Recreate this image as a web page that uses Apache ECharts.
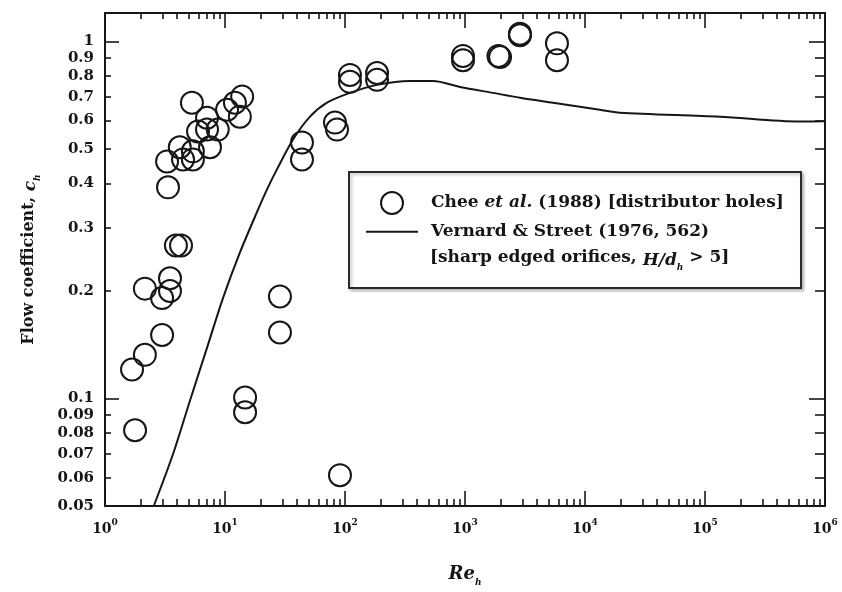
<!DOCTYPE html>
<html><head><meta charset="utf-8">
<script src="https://cdn.jsdelivr.net/npm/echarts@6/dist/echarts.min.js"></script>
<style>html,body{margin:0;padding:0;background:#fff}#c{width:842px;height:592px}</style>
</head><body><div id="c"></div>
<script>
// Chee et al. (1988) distributor holes: Re_h and c_h
const cheeRe = [1.68, 1.78, 2.15, 2.15, 2.99, 2.99, 3.48, 3.48, 3.9, 4.3, 3.35,
  3.29, 4.47, 5.4, 4.2, 5.4, 7.5, 5.96, 7.08, 8.7, 7.08, 5.3, 10.4, 12.1, 13.3, 13.9,
  14.7, 14.7, 28.7, 28.7, 43.8, 43.8, 82.5, 85.8, 90.8, 110, 110, 185, 185,
  962, 962, 1960, 1900, 2870, 2870, 5840, 5840];
const cheeCh = [0.1205, 0.0815, 0.1325, 0.203, 0.191, 0.1506, 0.217, 0.2, 0.268, 0.268, 0.39,
  0.461, 0.467, 0.467, 0.505, 0.492, 0.505, 0.559, 0.566, 0.566, 0.611, 0.673, 0.643, 0.673, 0.615, 0.70,
  0.1006, 0.0915, 0.193, 0.153, 0.521, 0.467, 0.592, 0.566, 0.061, 0.805, 0.77, 0.815, 0.78,
  0.885, 0.91, 0.903, 0.91, 1.04, 1.05, 0.987, 0.885];
// Vernard & Street (1976) curve
const vsRe = [2.55, 3.69, 5.11, 7.08, 9.62, 13.3, 18.5, 22.8, 27.1, 36.9, 51.1, 70.8, 110, 185,
  348, 541, 908, 1710, 2870, 5410, 13300, 19500, 133000, 617000, 1000000];
const vsCh = [0.05, 0.0699, 0.0987, 0.1386, 0.191, 0.256, 0.333, 0.39, 0.438, 0.531, 0.615, 0.673, 0.717, 0.755,
  0.774, 0.774, 0.745, 0.717, 0.695, 0.673, 0.643, 0.631, 0.615, 0.596, 0.597];
// Tick values / labels
const xMajorTicks = [1, 10, 100, 1000, 10000, 100000, 1000000];
const xMinorMultipliers = [2, 3, 4, 5, 6, 7, 8, 9];
const yMajorTicks = [0.1, 1];
const yTickLabels = [0.05, 0.06, 0.07, 0.08, 0.09, 0.1, 0.2, 0.3, 0.4, 0.5, 0.6, 0.7, 0.8, 0.9, 1];

const xMinorTicks = [];
xMajorTicks.slice(0, -1).forEach(d => xMinorMultipliers.forEach(m => xMinorTicks.push(+(d * m).toPrecision(3))));
const yMinorTicks = yTickLabels.filter(v => yMajorTicks.indexOf(v) < 0);

const FONT = 'DejaVu Serif';
const INK = '#161616';
const XMIN = 1, XMAX = 1e6, YMIN = 0.05, YMAX = 1.2;

function xAxis(pos, ticks, len, showLine, showLabel) {
  return {
    type: 'log', logBase: 10, min: XMIN, max: XMAX, position: pos,
    axisLine: { show: showLine, onZero: false, lineStyle: { color: INK, width: 2 } },
    axisTick: { show: true, inside: true, length: len, customValues: ticks, lineStyle: { color: INK, width: 1.6 } },
    axisLabel: showLabel ? {
      show: true, customValues: xMajorTicks, margin: 12, hideOverlap: false,
      showMinLabel: true, showMaxLabel: true,
      formatter: v => '{b|10}{s|' + Math.round(Math.log10(v)) + '}',
      rich: {
        b: { fontFamily: FONT, fontWeight: 'bold', fontSize: 14, color: INK, verticalAlign: 'bottom', lineHeight: 18 },
        s: { fontFamily: FONT, fontWeight: 'bold', fontSize: 9, color: INK, verticalAlign: 'top', lineHeight: 18, padding: [0, 0, 7, 0] }
      }
    } : { show: false },
    splitLine: { show: false }, minorTick: { show: false }
  };
}
function yAxis(pos, ticks, len, showLine, showLabel) {
  return {
    type: 'log', logBase: 10, min: YMIN, max: YMAX, position: pos,
    axisLine: { show: showLine, onZero: false, lineStyle: { color: INK, width: 2 } },
    axisTick: { show: true, inside: true, length: len, customValues: ticks, lineStyle: { color: INK, width: 1.6 } },
    axisLabel: showLabel ? {
      show: true, customValues: yTickLabels, margin: 11, hideOverlap: false,
      showMinLabel: true, showMaxLabel: true,
      formatter: v => String(+(+v).toPrecision(3)),
      fontFamily: FONT, fontWeight: 'bold', fontSize: 15, lineHeight: 12, color: INK
    } : { show: false },
    splitLine: { show: false }, minorTick: { show: false }
  };
}

const xAxes = [
  xAxis('bottom', xMajorTicks, 15, true, true),
  xAxis('bottom', xMinorTicks, 7, false, false),
  xAxis('top', xMajorTicks, 15, true, false),
  xAxis('top', xMinorTicks, 6, false, false)
];
xAxes[0].name = '{i|Re}{sub|h}';
xAxes[0].nameLocation = 'middle';
xAxes[0].nameGap = 55;
xAxes[0].nameTextStyle = {
  rich: {
    i: { fontFamily: FONT, fontStyle: 'italic', fontWeight: 'bold', fontSize: 18, color: INK, verticalAlign: 'bottom', lineHeight: 22 },
    sub: { fontFamily: FONT, fontStyle: 'italic', fontWeight: 'bold', fontSize: 9, color: INK, verticalAlign: 'bottom', lineHeight: 22, padding: [0, 0, -4, 0] }
  }
};
const yAxes = [
  yAxis('left', yMajorTicks, 14, true, true),
  yAxis('left', yMinorTicks, 6, false, false),
  yAxis('right', yMajorTicks, 16, true, false),
  yAxis('right', yMinorTicks, 10, false, false)
];
yAxes[0].name = 'Flow coefficient, {i|c}{sub|h}';
yAxes[0].nameLocation = 'middle';
yAxes[0].nameRotate = 90;
yAxes[0].nameGap = 66;
yAxes[0].nameTextStyle = {
  fontFamily: FONT, fontWeight: 'bold', fontSize: 16, color: INK,
  rich: {
    i: { fontFamily: FONT, fontStyle: 'italic', fontWeight: 'bold', fontSize: 17, color: INK, verticalAlign: 'bottom', lineHeight: 20 },
    sub: { fontFamily: FONT, fontStyle: 'italic', fontWeight: 'bold', fontSize: 9, color: INK, verticalAlign: 'bottom', lineHeight: 20, padding: [0, 0, -3, 0] }
  }
};

const chart = echarts.init(document.getElementById('c'), null, { renderer: 'canvas' });
chart.setOption({
  animation: false,
  backgroundColor: '#fff',
  grid: { left: 105, right: 17, top: 13, bottom: 85, containLabel: false },
  xAxis: xAxes,
  yAxis: yAxes,
  legend: {
    orient: 'vertical', left: 365, top: 191, padding: 0, itemWidth: 52, itemHeight: 22, itemGap: 8,
    selectedMode: false,
    data: [
      { name: 'Chee', icon: 'circle', itemStyle: { color: 'rgba(0,0,0,0)', borderColor: INK, borderWidth: 2 } },
      { name: 'Vernard', itemStyle: { color: 'rgba(0,0,0,0)', borderColor: 'rgba(0,0,0,0)', borderWidth: 0 },
        lineStyle: { color: INK, width: 2 } }
    ],
    formatter: n => n === 'Chee' ? 'Chee {i|et al.} (1988) [distributor holes]' : 'Vernard & Street (1976, 562)',
    textStyle: {
      fontFamily: FONT, fontWeight: 'bold', fontSize: 17, color: INK, padding: [0, 0, 0, 8],
      rich: { i: { fontFamily: FONT, fontStyle: 'italic', fontWeight: 'bold', fontSize: 17, color: INK } }
    }
  },
  graphic: [
    { type: 'rect', left: 348, top: 171, z: 0, shape: { width: 452, height: 116 },
      style: { fill: '#fff', stroke: '#2a2a2a', lineWidth: 2, shadowBlur: 3, shadowOffsetX: 2, shadowOffsetY: 2, shadowColor: 'rgba(0,0,0,0.25)' } },
    { type: 'text', left: 430, top: 247, z: 5,
      style: { text: '[sharp edged orifices, {i|H/d}{sub|h} > 5]', fill: INK,
        font: 'bold 17px "DejaVu Serif"', lineHeight: 22,
        rich: {
          i: { fontFamily: FONT, fontStyle: 'italic', fontWeight: 'bold', fontSize: 17, fill: INK, verticalAlign: 'bottom', lineHeight: 22 },
          sub: { fontFamily: FONT, fontStyle: 'italic', fontWeight: 'bold', fontSize: 9, fill: INK, verticalAlign: 'bottom', lineHeight: 22, padding: [0, 0, -3, 0] }
        } } }
  ],
  series: [
    {
      name: 'Chee', type: 'scatter', xAxisIndex: 0, yAxisIndex: 0,
      data: cheeRe.map((x, i) => [x, cheeCh[i]]),
      symbol: 'circle', symbolSize: 22, symbolKeepAspect: true,
      itemStyle: { color: 'rgba(0,0,0,0)', borderColor: INK, borderWidth: 2, opacity: 1 },
      z: 3
    },
    {
      name: 'Vernard', type: 'line', xAxisIndex: 0, yAxisIndex: 0,
      data: vsRe.map((x, i) => [x, vsCh[i]]),
      showSymbol: false, symbol: 'none', smooth: 0.3,
      lineStyle: { color: INK, width: 2 }, itemStyle: { color: INK },
      z: 2
    }
  ]
});
</script></body></html>
